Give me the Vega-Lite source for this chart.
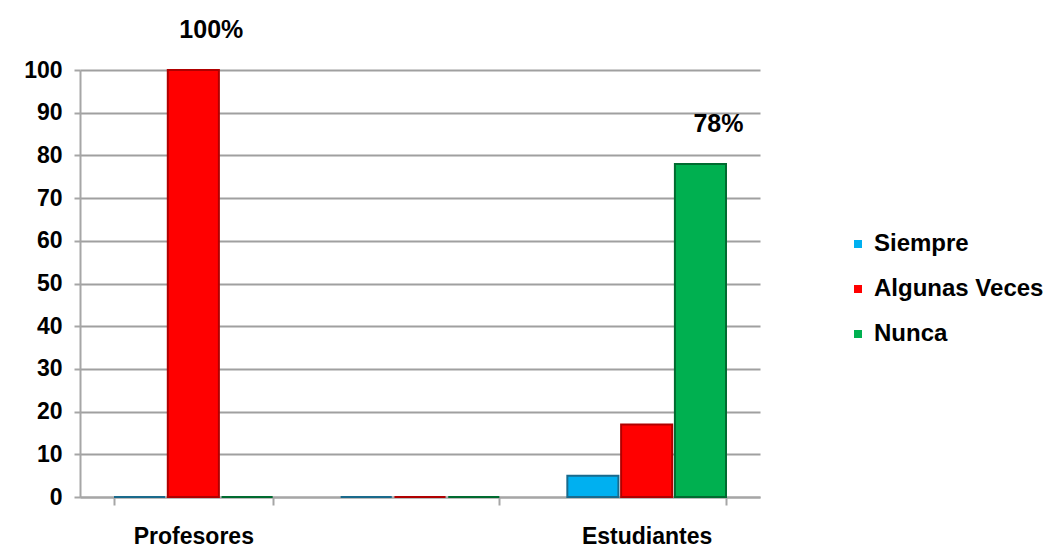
{
  "$schema": "https://vega.github.io/schema/vega-lite/v6.json",
  "autosize": {"type": "none"},
  "width": 680,
  "height": 427,
  "padding": {"left": 80, "top": 70, "right": 303, "bottom": 52},
  "background": "#ffffff",
  "data": {
    "values": [
      {"grupo": "Profesores", "respuesta": "Siempre", "valor": 0},
      {"grupo": "Profesores", "respuesta": "Algunas Veces", "valor": 100},
      {"grupo": "Profesores", "respuesta": "Nunca", "valor": 0},
      {"grupo": " ", "respuesta": "Siempre", "valor": 0},
      {"grupo": " ", "respuesta": "Algunas Veces", "valor": 0},
      {"grupo": " ", "respuesta": "Nunca", "valor": 0},
      {"grupo": "Estudiantes", "respuesta": "Siempre", "valor": 5},
      {"grupo": "Estudiantes", "respuesta": "Algunas Veces", "valor": 17},
      {"grupo": "Estudiantes", "respuesta": "Nunca", "valor": 78}
    ]
  },
  "config": {
    "font": "Liberation Sans",
    "view": {"stroke": null}
  },
  "encoding": {
    "x": {
      "field": "grupo",
      "type": "nominal",
      "sort": ["Profesores", " ", "Estudiantes"],
      "title": null,
      "scale": {"paddingInner": 0.3, "paddingOuter": 0.15},
      "axis": {
        "labelAngle": 0,
        "labelFont": "Liberation Sans",
        "labelFontWeight": "bold",
        "labelFontSize": 23,
        "labelColor": "#000000",
        "labelPadding": 20,
        "domainColor": "#a6a6a6",
        "domainWidth": 2,
        "tickColor": "#a6a6a6",
        "tickWidth": 2,
        "tickSize": 8,
        "tickBand": "extent"
      }
    },
    "xOffset": {
      "field": "respuesta",
      "type": "nominal",
      "sort": ["Siempre", "Algunas Veces", "Nunca"],
      "scale": {"paddingInner": 0.05}
    }
  },
  "layer": [
    {
      "mark": {"type": "bar", "strokeWidth": 2},
      "encoding": {
        "y": {
          "field": "valor",
          "type": "quantitative",
          "title": null,
          "scale": {"domain": [0, 100]},
          "axis": {
            "values": [0, 10, 20, 30, 40, 50, 60, 70, 80, 90, 100],
            "labelFont": "Liberation Sans",
            "labelFontWeight": "bold",
            "labelFontSize": 23,
            "labelColor": "#000000",
            "labelPadding": 12,
            "domainColor": "#a6a6a6",
            "domainWidth": 2,
            "tickColor": "#a6a6a6",
            "tickWidth": 2,
            "tickSize": 6,
            "grid": true,
            "gridColor": "#a0a0a0",
            "gridWidth": 2
          }
        },
        "color": {
          "field": "respuesta",
          "type": "nominal",
          "sort": ["Siempre", "Algunas Veces", "Nunca"],
          "scale": {
            "domain": ["Siempre", "Algunas Veces", "Nunca"],
            "range": ["#00b0f0", "#ff0000", "#00b050"]
          },
          "legend": {
            "title": null,
            "orient": "none",
            "legendX": 766,
            "legendY": 162,
            "symbolType": "square",
            "symbolSize": 64,
            "symbolStrokeWidth": 0,
            "labelFont": "Liberation Sans",
            "labelFontWeight": "bold",
            "labelFontSize": 24,
            "labelColor": "#000000",
            "labelLimit": 300,
            "rowPadding": 21,
            "labelOffset": 4
          }
        },
        "stroke": {
          "field": "respuesta",
          "type": "nominal",
          "scale": {
            "domain": ["Siempre", "Algunas Veces", "Nunca"],
            "range": ["#1a6a8c", "#b00000", "#006b30"]
          },
          "legend": null
        }
      }
    },
    {
      "transform": [
        {"filter": "datum.valor >= 50"},
        {"calculate": "datum.valor + '%'", "as": "etiqueta"}
      ],
      "mark": {
        "type": "text",
        "font": "Liberation Sans",
        "fontWeight": "bold",
        "fontSize": 25,
        "color": "#000000",
        "baseline": "alphabetic",
        "dy": -32,
        "dx": 18
      },
      "encoding": {
        "y": {"field": "valor", "type": "quantitative"},
        "text": {"field": "etiqueta"}
      }
    }
  ]
}
